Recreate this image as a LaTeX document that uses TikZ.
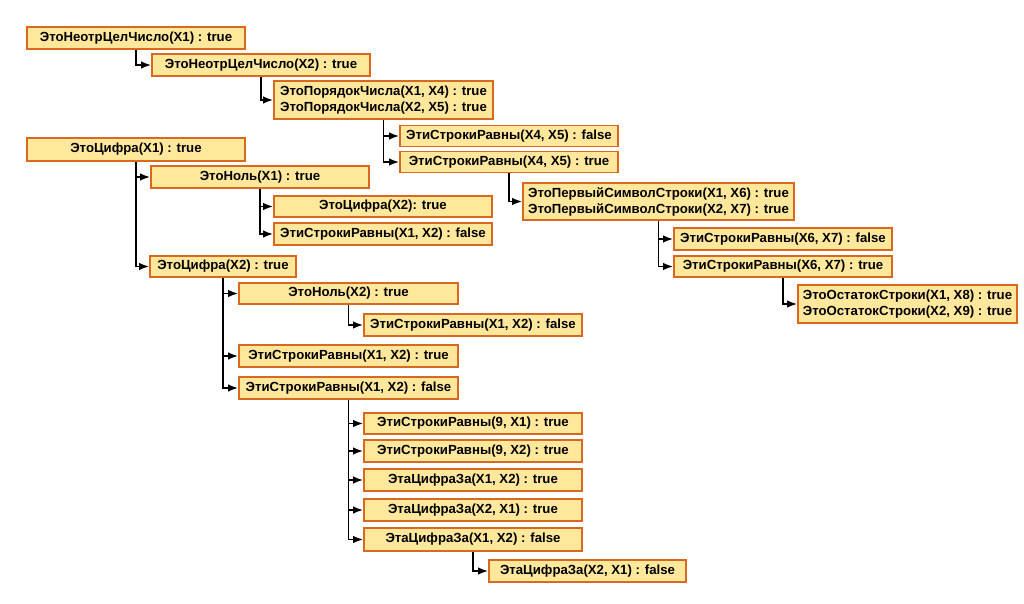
\documentclass[tikz,border=0pt]{standalone}
\usepackage{fontspec}
\setmainfont{Liberation Sans}
\usetikzlibrary{arrows.meta}
\definecolor{boxfill}{HTML}{FFE79B}
\definecolor{boxline}{HTML}{D9691E}
\begin{document}
\begin{tikzpicture}[x=1pt,y=-1pt,
  box/.style={draw=boxline,fill=boxfill,line width=1.8pt,inner sep=0pt,
    minimum height=22pt,font=\bfseries\fontsize{13.2}{16}\selectfont,align=center},
  dbl/.style={box,minimum height=38pt,align=left},
  conn/.style={draw=black,line width=1.7pt,-{Latex[length=10pt,width=7.5pt]}}]
\useasboundingbox[fill=white] (0,0) rectangle (1024,604);
\node[box,minimum width=218pt] (n1) at (136,38) {ЭтоНеотрЦелЧисло(X1) : true};
\node[box,minimum width=218pt] (n2) at (261,65) {ЭтоНеотрЦелЧисло(X2) : true};
\node[dbl,minimum width=219pt] (n3) at (383.5,100) {ЭтоПорядокЧисла(X1, X4) : true\\ЭтоПорядокЧисла(X2, X5) : true};
\node[box,minimum width=218pt,minimum height=21pt] (n4) at (509,136) {ЭтиСтрокиРавны(X4, X5) : false};
\node[box,minimum width=218pt,minimum height=21pt] (n5) at (509,162) {ЭтиСтрокиРавны(X4, X5) : true};
\node[dbl,minimum width=271pt,minimum height=37pt] (n6) at (658.5,201.5) {ЭтоПервыйСимволСтроки(X1, X6) : true\\ЭтоПервыйСимволСтроки(X2, X7) : true};
\node[box,minimum width=218pt] (n7) at (783,239) {ЭтиСтрокиРавны(X6, X7) : false};
\node[box,minimum width=218pt,minimum height=21pt] (n8) at (783,266.5) {ЭтиСтрокиРавны(X6, X7) : true};
\node[dbl,minimum width=219pt] (n9) at (907.5,304) {ЭтоОстатокСтроки(X1, X8) : true\\ЭтоОстатокСтроки(X2, X9) : true};
\node[box,minimum width=218pt,minimum height=23pt] (n10) at (136,149.5) {ЭтоЦифра(X1) : true};
\node[box,minimum width=218pt] (n11) at (260,177) {ЭтоНоль(X1) : true};
\node[box,minimum width=218pt,minimum height=21pt] (n12) at (383,206.5) {ЭтоЦифра(X2): true};
\node[box,minimum width=218pt] (n13) at (383,234) {ЭтиСтрокиРавны(X1, X2) : false};
\node[box,minimum width=146pt,minimum height=21pt] (n14) at (223,266.5) {ЭтоЦифра(X2) : true};
\node[box,minimum width=219pt,minimum height=21pt] (n15) at (348.5,293.5) {ЭтоНоль(X2) : true};
\node[box,minimum width=218pt] (n16) at (473,325) {ЭтиСтрокиРавны(X1, X2) : false};
\node[box,minimum width=219pt] (n17) at (348.5,356) {ЭтиСтрокиРавны(X1, X2) : true};
\node[box,minimum width=219pt] (n18) at (348.5,388) {ЭтиСтрокиРавны(X1, X2) : false};
\node[box,minimum width=218pt,minimum height=21pt] (n19) at (473,423.5) {ЭтиСтрокиРавны(9, X1) : true};
\node[box,minimum width=218pt] (n20) at (473,451) {ЭтиСтрокиРавны(9, X2) : true};
\node[box,minimum width=218pt] (n21) at (473,480) {ЭтаЦифраЗа(X1, X2) : true};
\node[box,minimum width=218pt] (n22) at (473,510) {ЭтаЦифраЗа(X2, X1) : true};
\node[box,minimum width=218pt,minimum height=23pt] (n23) at (473,539.5) {ЭтаЦифраЗа(X1, X2) : false};
\node[box,minimum width=197pt] (n24) at (587.5,571) {ЭтаЦифраЗа(X2, X1) : false};
\foreach \a/\b in {n1/n2,n2/n3,n3/n4,n3/n5,n5/n6,n6/n7,n6/n8,n8/n9,
  n10/n11,n10/n14,n11/n12,n11/n13,n14/n15,n14/n17,n14/n18,n15/n16,
  n18/n19,n18/n20,n18/n21,n18/n22,n18/n23,n23/n24}
  \draw[conn] (\a.south) |- (\b.west);
\end{tikzpicture}
\end{document}
